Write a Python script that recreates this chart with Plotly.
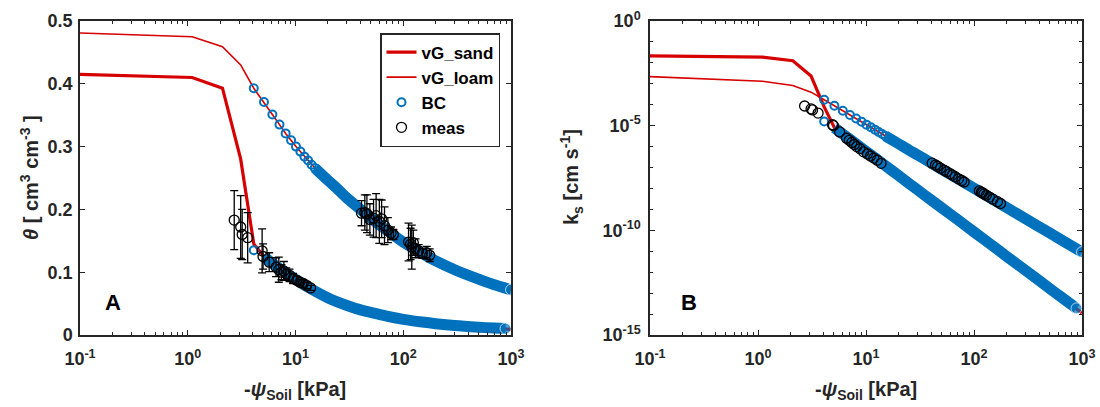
import plotly.graph_objects as go
from plotly.subplots import make_subplots

# ---------------- data ----------------
# matric suction samples for the van Genuchten curves [kPa]
PSI_VG = [0.1, 1.1, 2.1, 3.1, 4.1, 5.1, 6.1, 7.1, 8.1, 10.1, 12.1, 15.1, 20.1,
          25.1, 30.1, 40.1, 50.1, 70.1, 100.1, 150.1, 200.1, 300.1, 500.1, 700.1, 1000]
THETA_VG_SAND = [0.415, 0.410, 0.393, 0.280, 0.145, 0.125, 0.114, 0.106, 0.099,
                 0.088, 0.080, 0.070, 0.059, 0.052, 0.047, 0.040, 0.036, 0.030,
                 0.025, 0.0206, 0.018, 0.015, 0.0124, 0.011, 0.009]
THETA_VG_LOAM = [0.481, 0.475, 0.459, 0.430, 0.393, 0.371, 0.351, 0.335, 0.321,
                 0.300, 0.284, 0.266, 0.246, 0.231, 0.218, 0.200, 0.186, 0.167,
                 0.148, 0.130, 0.118, 0.104, 0.089, 0.080, 0.072]
K_VG_SAND = [2.14e-2, 1.86e-2, 1.26e-2, 2.34e-3, 7.94e-5, 7.94e-6, 3.98e-6,
             2.24e-6, 1.35e-6, 5.75e-7, 2.88e-7, 1.23e-7, 4.07e-8, 1.72e-8,
             8.51e-9, 2.82e-9, 1.20e-9, 3.31e-10, 8.32e-11, 1.76e-11, 5.75e-12,
             1.23e-12, 1.70e-13, 4.68e-14, 1.12e-14]
K_VG_LOAM = [2.19e-3, 1.32e-3, 8.32e-4, 3.98e-4, 1.74e-4, 8.91e-5, 5.13e-5,
             3.24e-5, 2.19e-5, 1.12e-5, 6.46e-6, 3.24e-6, 1.35e-6, 6.76e-7,
             3.98e-7, 1.66e-7, 8.32e-8, 3.02e-8, 1.02e-8, 2.95e-9, 1.23e-9,
             3.55e-10, 7.59e-11, 2.69e-11, 9.12e-12]

# Brooks-Corey samples, loam: individual circles at low suction
PSI_BC_LOAM_PTS = [4.1, 5.1, 6.1, 7.1, 8.1, 9.1, 10.1, 11.1, 12.1, 13.1, 14.1, 15.1]
THETA_BC_LOAM_PTS = [0.393, 0.371, 0.351, 0.335, 0.321, 0.310, 0.300, 0.292,
                     0.284, 0.278, 0.271, 0.266]
K_BC_LOAM_PTS = [1.74e-4, 8.91e-5, 5.13e-5, 3.24e-5, 2.19e-5, 1.53e-5, 1.12e-5,
                 8.34e-6, 6.46e-6, 5.02e-6, 4.02e-6, 3.24e-6]
# Brooks-Corey loam, densely sampled range
PSI_BC_LOAM_BAND = [15.1, 20.1, 25.1, 30.1, 40.1, 50.1, 70.1, 100.1, 150.1,
                    200.1, 300.1, 500.1, 700.1, 1000]
THETA_BC_LOAM_BAND = [0.266, 0.246, 0.231, 0.218, 0.200, 0.186, 0.167, 0.148,
                      0.130, 0.118, 0.104, 0.089, 0.080, 0.072]
K_BC_LOAM_BAND = [3.24e-6, 1.35e-6, 6.76e-7, 3.98e-7, 1.66e-7, 8.32e-8, 3.02e-8,
                  1.02e-8, 2.95e-9, 1.23e-9, 3.55e-10, 7.59e-11, 2.69e-11, 9.12e-12]

# Brooks-Corey samples, sand
PSI_BC_SAND_PTS = [4.1]
THETA_BC_SAND_PTS = [0.135]
K_BC_SAND_PTS = [1.58e-5]
PSI_BC_SAND_BAND = [5.1, 6.1, 8.1, 10.1, 15.1, 20.1, 25.1, 30.1, 40.1, 50.1,
                    70.1, 100.1, 150.1, 200.1, 300.1, 500.1, 700.1, 890]
THETA_BC_SAND_BAND = [0.125, 0.114, 0.099, 0.088, 0.070, 0.059, 0.052, 0.047,
                      0.040, 0.036, 0.030, 0.025, 0.0206, 0.018, 0.015, 0.0124,
                      0.011, 0.0102]
K_BC_SAND_BAND = [7.94e-6, 3.98e-6, 1.35e-6, 5.75e-7, 1.23e-7, 4.07e-8, 1.72e-8,
                  8.51e-9, 2.82e-9, 1.20e-9, 3.31e-10, 8.32e-11, 1.76e-11,
                  5.75e-12, 1.23e-12, 1.70e-13, 4.68e-14, 1.86e-14]

# measurements, sand
PSI_MEAS_SAND = [2.7, 3.1, 3.2, 3.6, 4.9, 5.0, 5.7, 6.6, 7.0, 7.4, 7.8, 8.2,
                 8.8, 9.5, 10.3, 11.0, 11.8, 12.7, 13.8]
THETA_MEAS_SAND = [0.183, 0.172, 0.160, 0.155, 0.134, 0.125, 0.116, 0.108,
                   0.104, 0.100, 0.102, 0.097, 0.095, 0.090, 0.087, 0.084,
                   0.082, 0.079, 0.075]
ERR_MEAS_SAND = [0.047, 0.050, 0.040, 0.040, 0.035, 0.020, 0.015, 0.015, 0.020,
                 0.012, 0.015, 0.010, 0.010, 0.008, 0.006, 0.005, 0.006, 0.005,
                 0.004]
K_MEAS_SAND = [8.71e-5, 6.31e-5, 5.62e-5, 3.98e-5, 1.12e-5, 1.00e-5, 5.01e-6,
               2.51e-6, 2.00e-6, 1.58e-6, 1.26e-6, 1.00e-6, 7.94e-7, 5.62e-7,
               4.47e-7, 3.55e-7, 2.82e-7, 2.24e-7, 1.58e-7]

# measurements, loam
PSI_MEAS_LOAM = [41, 44, 46, 49, 53, 56, 60, 63, 67, 72, 77, 81, 112, 117, 120,
                 124, 130, 139, 150, 165, 176]
THETA_MEAS_LOAM = [0.194, 0.195, 0.193, 0.184, 0.186, 0.190, 0.181, 0.185, 0.174,
                   0.167, 0.162, 0.160, 0.148, 0.145, 0.140, 0.147, 0.138, 0.134,
                   0.130, 0.131, 0.127]
ERR_MEAS_LOAM = [0.020, 0.028, 0.030, 0.025, 0.030, 0.035, 0.035, 0.030, 0.030,
                 0.020, 0.010, 0.008, 0.030, 0.025, 0.035, 0.020, 0.015, 0.010,
                 0.008, 0.010, 0.010]
K_MEAS_LOAM = [1.62e-7, 1.32e-7, 1.15e-7, 9.33e-8, 7.41e-8, 6.31e-8, 5.13e-8,
               4.37e-8, 3.63e-8, 2.88e-8, 2.40e-8, 2.04e-8, 7.59e-9, 6.61e-9,
               6.17e-9, 5.50e-9, 4.79e-9, 3.89e-9, 3.09e-9, 2.34e-9, 1.91e-9]

X_TICKS = [0.1, 1, 10, 100, 1000]
X_TICK_TEXT = ["10<sup>-1</sup>", "10<sup>0</sup>", "10<sup>1</sup>",
               "10<sup>2</sup>", "10<sup>3</sup>"]
K_TICKS = [1e-15, 1e-10, 1e-5, 1]
K_TICK_TEXT = ["10<sup>-15</sup>", "10<sup>-10</sup>", "10<sup>-5</sup>", "10<sup>0</sup>"]

# ---------------- style ----------------
RED = "rgb(214,0,0)"
BLUE = "rgb(0,114,189)"
AXC = "#262626"
FONT = "Liberation Sans"
W, H = 1100, 407

fig = make_subplots(rows=1, cols=2)


def add_panel(col, y_sand, y_loam, y_bc_loam_pts, y_bc_loam_band,
              y_bc_sand_pts, y_bc_sand_band, y_meas_sand, y_meas_loam,
              err_sand=None, err_loam=None, legend=False):
    fig.add_trace(go.Scatter(x=PSI_VG, y=y_sand, mode="lines", name="vG_sand",
                             line=dict(color=RED, width=3.2), showlegend=legend),
                  row=1, col=col)
    fig.add_trace(go.Scatter(x=PSI_VG, y=y_loam, mode="lines", name="vG_loam",
                             line=dict(color=RED, width=1.6), showlegend=legend),
                  row=1, col=col)
    # dense BC samples merge into a thick band
    for xs, ys in ((PSI_BC_LOAM_BAND, y_bc_loam_band),
                   (PSI_BC_SAND_BAND, y_bc_sand_band)):
        fig.add_trace(go.Scatter(x=xs, y=ys, mode="lines+markers",
                                 line=dict(color=BLUE, width=11, shape="spline",
                                           smoothing=0.8),
                                 marker=dict(color=BLUE, size=[0] * (len(xs) - 1) + [11]),
                                 showlegend=False, hoverinfo="skip"),
                      row=1, col=col)
    fig.add_trace(go.Scatter(x=PSI_BC_LOAM_PTS + PSI_BC_SAND_PTS,
                             y=y_bc_loam_pts + y_bc_sand_pts,
                             mode="markers", name="BC",
                             marker=dict(symbol="circle-open", size=8, color=BLUE,
                                         line=dict(width=2, color=BLUE)),
                             showlegend=legend),
                  row=1, col=col)
    meas_marker = dict(symbol="circle-open", size=10, color="black",
                       line=dict(width=1.3, color="black"))
    ex = {}
    if err_sand is not None:
        ex = dict(error_y=dict(type="data", array=err_sand + err_loam,
                               color="black", thickness=1.3, width=4))
    fig.add_trace(go.Scatter(x=PSI_MEAS_SAND + PSI_MEAS_LOAM,
                             y=y_meas_sand + y_meas_loam, mode="markers",
                             name="meas", marker=meas_marker, showlegend=legend,
                             **ex),
                  row=1, col=col)


add_panel(1, THETA_VG_SAND, THETA_VG_LOAM, THETA_BC_LOAM_PTS, THETA_BC_LOAM_BAND,
          THETA_BC_SAND_PTS, THETA_BC_SAND_BAND, THETA_MEAS_SAND, THETA_MEAS_LOAM,
          ERR_MEAS_SAND, ERR_MEAS_LOAM, legend=True)
add_panel(2, K_VG_SAND, K_VG_LOAM, K_BC_LOAM_PTS, K_BC_LOAM_BAND,
          K_BC_SAND_PTS, K_BC_SAND_BAND, K_MEAS_SAND, K_MEAS_LOAM)

tickfont = dict(family=FONT, size=18, color=AXC, weight="bold")
x_minor = [m * 10 ** e for e in (-1, 0, 1, 2) for m in range(2, 10)]
common = dict(showline=True, linecolor=AXC, linewidth=1.5, mirror="ticks",
              ticks="inside", ticklen=5, tickwidth=1.2, tickcolor=AXC,
              showgrid=False, zeroline=False, tickfont=tickfont, automargin=False)

x_dom1 = [80 / W, 511 / W]
x_dom2 = [650 / W, 1082 / W]
y_dom = [1 - 335 / H, 1 - 21 / H]

for ax, dom in (("xaxis", x_dom1), ("xaxis2", x_dom2)):
    fig.update_layout(**{ax: dict(type="log", range=[-1, 3], domain=dom,
                                  tickmode="array", tickvals=X_TICKS,
                                  ticktext=X_TICK_TEXT, ticklabelstandoff=7,
                                  minor=dict(tickmode="array", tickvals=x_minor,
                                             ticks="inside", ticklen=3,
                                             tickcolor=AXC, tickwidth=1,
                                             showgrid=False),
                                  **common)})

fig.update_layout(
    yaxis=dict(range=[0, 0.5], domain=y_dom, tickmode="array",
               tickvals=[0, 0.1, 0.2, 0.3, 0.4, 0.5],
               ticktext=["0", "0.1", "0.2", "0.3", "0.4", "0.5"],
               ticklabelstandoff=2, **common),
    yaxis2=dict(type="log", range=[-15, 0], domain=y_dom, tickmode="array",
                tickvals=K_TICKS, ticktext=K_TICK_TEXT, ticklabelstandoff=4,
                minor=dict(tickmode="array",
                           tickvals=[10.0 ** -e for e in range(1, 15) if e % 5],
                           ticks="inside", ticklen=3, tickcolor=AXC,
                           tickwidth=1, showgrid=False),
                **common),
)

title_font = dict(family=FONT, size=20, color=AXC, weight="bold")
annots = [
    dict(text="-<i>ψ</i><sub>Soil</sub> [kPa]", x=295 / W, y=1 - 390 / H),
    dict(text="-<i>ψ</i><sub>Soil</sub> [kPa]", x=866 / W, y=1 - 390 / H),
    dict(text="<i>θ</i> [ cm<sup>3</sup> cm<sup>-3</sup> ]", x=30 / W,
         y=1 - 178 / H, textangle=-90),
    dict(text="k<sub>s</sub> [cm s<sup>-1</sup>]", x=571 / W, y=1 - 177 / H,
         textangle=-90),
]
for a in annots:
    fig.add_annotation(xref="paper", yref="paper", showarrow=False,
                       xanchor="center", yanchor="middle", font=title_font, **a)
for txt, px in (("A", 113), ("B", 689)):
    fig.add_annotation(text=txt, xref="paper", yref="paper", x=px / W,
                       y=1 - 302 / H, showarrow=False, xanchor="center",
                       yanchor="middle",
                       font=dict(family=FONT, size=22, color="black",
                                 weight="bold"))

fig.update_layout(
    width=W, height=H,
    margin=dict(l=0, r=0, t=0, b=0),
    paper_bgcolor="white", plot_bgcolor="white",
    legend=dict(x=500 / W, y=1 - 33 / H, xanchor="right", yanchor="top",
                bgcolor="white", bordercolor=AXC, borderwidth=1.5,
                font=dict(family=FONT, size=17, color="black", weight="bold"),
                tracegroupgap=0, itemwidth=30),
    showlegend=True,
)

fig.write_html("out.html")
